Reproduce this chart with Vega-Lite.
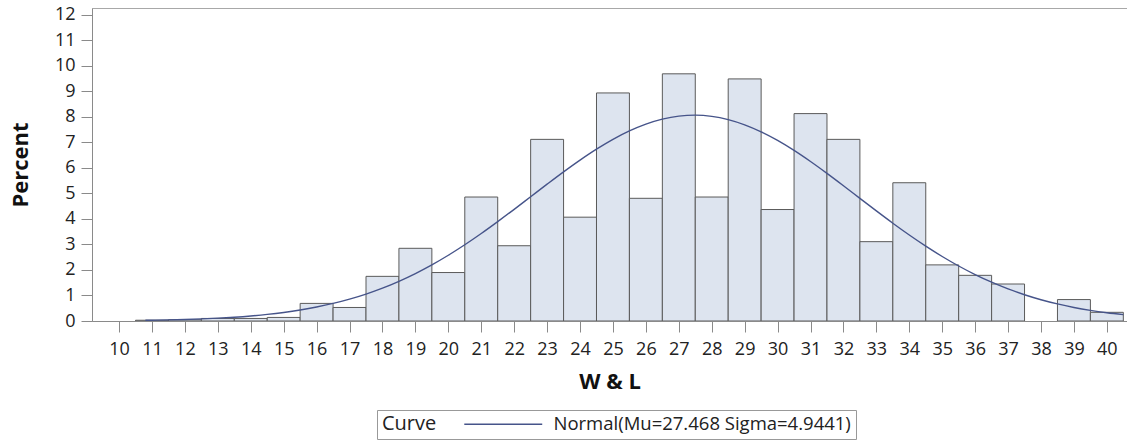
{
  "$schema": "https://vega.github.io/schema/vega-lite/v6.json",
  "width": 1035,
  "height": 313,
  "autosize": {"type": "none"},
  "padding": {"left": 92, "top": 8, "right": 0, "bottom": 122},
  "background": "white",
  "config": {
    "font": "Open Sans",
    "view": {"stroke": "#a8a8a8", "strokeWidth": 1},
    "axis": {"grid": false, "domainColor": "#8a8a8a", "tickColor": "#8a8a8a", "labelColor": "#222222", "titleColor": "#111111", "labelFont": "Open Sans", "titleFont": "Open Sans"}
  },
  "datasets": {
    "bars": [
      {"lo": 10.5, "hi": 11.5, "percent": 0.03},
      {"lo": 11.5, "hi": 12.5, "percent": 0.05},
      {"lo": 12.5, "hi": 13.5, "percent": 0.1},
      {"lo": 13.5, "hi": 14.5, "percent": 0.1},
      {"lo": 14.5, "hi": 15.5, "percent": 0.14},
      {"lo": 15.5, "hi": 16.5, "percent": 0.69},
      {"lo": 16.5, "hi": 17.5, "percent": 0.53},
      {"lo": 17.5, "hi": 18.5, "percent": 1.75},
      {"lo": 18.5, "hi": 19.5, "percent": 2.85},
      {"lo": 19.5, "hi": 20.5, "percent": 1.9},
      {"lo": 20.5, "hi": 21.5, "percent": 4.86},
      {"lo": 21.5, "hi": 22.5, "percent": 2.95},
      {"lo": 22.5, "hi": 23.5, "percent": 7.12},
      {"lo": 23.5, "hi": 24.5, "percent": 4.07},
      {"lo": 24.5, "hi": 25.5, "percent": 8.94},
      {"lo": 25.5, "hi": 26.5, "percent": 4.81},
      {"lo": 26.5, "hi": 27.5, "percent": 9.69},
      {"lo": 27.5, "hi": 28.5, "percent": 4.86},
      {"lo": 28.5, "hi": 29.5, "percent": 9.49},
      {"lo": 29.5, "hi": 30.5, "percent": 4.37},
      {"lo": 30.5, "hi": 31.5, "percent": 8.13},
      {"lo": 31.5, "hi": 32.5, "percent": 7.12},
      {"lo": 32.5, "hi": 33.5, "percent": 3.11},
      {"lo": 33.5, "hi": 34.5, "percent": 5.42},
      {"lo": 34.5, "hi": 35.5, "percent": 2.2},
      {"lo": 35.5, "hi": 36.5, "percent": 1.79},
      {"lo": 36.5, "hi": 37.5, "percent": 1.45},
      {"lo": 38.5, "hi": 39.5, "percent": 0.84},
      {"lo": 39.5, "hi": 40.5, "percent": 0.34}
    ],
    "curve": [
      {"lo": 10.8, "percent": 0.0275, "series": "Normal(Mu=27.468 Sigma=4.9441)"},
      {"lo": 11.0, "percent": 0.0315, "series": "Normal(Mu=27.468 Sigma=4.9441)"},
      {"lo": 11.5, "percent": 0.0438, "series": "Normal(Mu=27.468 Sigma=4.9441)"},
      {"lo": 12.0, "percent": 0.0604, "series": "Normal(Mu=27.468 Sigma=4.9441)"},
      {"lo": 12.5, "percent": 0.0825, "series": "Normal(Mu=27.468 Sigma=4.9441)"},
      {"lo": 13.0, "percent": 0.1115, "series": "Normal(Mu=27.468 Sigma=4.9441)"},
      {"lo": 13.5, "percent": 0.1491, "series": "Normal(Mu=27.468 Sigma=4.9441)"},
      {"lo": 14.0, "percent": 0.1975, "series": "Normal(Mu=27.468 Sigma=4.9441)"},
      {"lo": 14.5, "percent": 0.2588, "series": "Normal(Mu=27.468 Sigma=4.9441)"},
      {"lo": 15.0, "percent": 0.3356, "series": "Normal(Mu=27.468 Sigma=4.9441)"},
      {"lo": 15.5, "percent": 0.4309, "series": "Normal(Mu=27.468 Sigma=4.9441)"},
      {"lo": 16.0, "percent": 0.5477, "series": "Normal(Mu=27.468 Sigma=4.9441)"},
      {"lo": 16.5, "percent": 0.6889, "series": "Normal(Mu=27.468 Sigma=4.9441)"},
      {"lo": 17.0, "percent": 0.8579, "series": "Normal(Mu=27.468 Sigma=4.9441)"},
      {"lo": 17.5, "percent": 1.0569, "series": "Normal(Mu=27.468 Sigma=4.9441)"},
      {"lo": 18.0, "percent": 1.2893, "series": "Normal(Mu=27.468 Sigma=4.9441)"},
      {"lo": 18.5, "percent": 1.5574, "series": "Normal(Mu=27.468 Sigma=4.9441)"},
      {"lo": 19.0, "percent": 1.8613, "series": "Normal(Mu=27.468 Sigma=4.9441)"},
      {"lo": 19.5, "percent": 2.2019, "series": "Normal(Mu=27.468 Sigma=4.9441)"},
      {"lo": 20.0, "percent": 2.5785, "series": "Normal(Mu=27.468 Sigma=4.9441)"},
      {"lo": 20.5, "percent": 2.9886, "series": "Normal(Mu=27.468 Sigma=4.9441)"},
      {"lo": 21.0, "percent": 3.4292, "series": "Normal(Mu=27.468 Sigma=4.9441)"},
      {"lo": 21.5, "percent": 3.8944, "series": "Normal(Mu=27.468 Sigma=4.9441)"},
      {"lo": 22.0, "percent": 4.3773, "series": "Normal(Mu=27.468 Sigma=4.9441)"},
      {"lo": 22.5, "percent": 4.8706, "series": "Normal(Mu=27.468 Sigma=4.9441)"},
      {"lo": 23.0, "percent": 5.3639, "series": "Normal(Mu=27.468 Sigma=4.9441)"},
      {"lo": 23.5, "percent": 5.8475, "series": "Normal(Mu=27.468 Sigma=4.9441)"},
      {"lo": 24.0, "percent": 6.309, "series": "Normal(Mu=27.468 Sigma=4.9441)"},
      {"lo": 24.5, "percent": 6.7384, "series": "Normal(Mu=27.468 Sigma=4.9441)"},
      {"lo": 25.0, "percent": 7.1237, "series": "Normal(Mu=27.468 Sigma=4.9441)"},
      {"lo": 25.5, "percent": 7.4544, "series": "Normal(Mu=27.468 Sigma=4.9441)"},
      {"lo": 26.0, "percent": 7.7211, "series": "Normal(Mu=27.468 Sigma=4.9441)"},
      {"lo": 26.5, "percent": 7.9159, "series": "Normal(Mu=27.468 Sigma=4.9441)"},
      {"lo": 27.0, "percent": 8.0329, "series": "Normal(Mu=27.468 Sigma=4.9441)"},
      {"lo": 27.5, "percent": 8.069, "series": "Normal(Mu=27.468 Sigma=4.9441)"},
      {"lo": 28.0, "percent": 8.0224, "series": "Normal(Mu=27.468 Sigma=4.9441)"},
      {"lo": 28.5, "percent": 7.8951, "series": "Normal(Mu=27.468 Sigma=4.9441)"},
      {"lo": 29.0, "percent": 7.6908, "series": "Normal(Mu=27.468 Sigma=4.9441)"},
      {"lo": 29.5, "percent": 7.4155, "series": "Normal(Mu=27.468 Sigma=4.9441)"},
      {"lo": 30.0, "percent": 7.0774, "series": "Normal(Mu=27.468 Sigma=4.9441)"},
      {"lo": 30.5, "percent": 6.686, "series": "Normal(Mu=27.468 Sigma=4.9441)"},
      {"lo": 31.0, "percent": 6.2515, "series": "Normal(Mu=27.468 Sigma=4.9441)"},
      {"lo": 31.5, "percent": 5.7863, "series": "Normal(Mu=27.468 Sigma=4.9441)"},
      {"lo": 32.0, "percent": 5.3012, "series": "Normal(Mu=27.468 Sigma=4.9441)"},
      {"lo": 32.5, "percent": 4.8073, "series": "Normal(Mu=27.468 Sigma=4.9441)"},
      {"lo": 33.0, "percent": 4.315, "series": "Normal(Mu=27.468 Sigma=4.9441)"},
      {"lo": 33.5, "percent": 3.8333, "series": "Normal(Mu=27.468 Sigma=4.9441)"},
      {"lo": 34.0, "percent": 3.3711, "series": "Normal(Mu=27.468 Sigma=4.9441)"},
      {"lo": 34.5, "percent": 2.9343, "series": "Normal(Mu=27.468 Sigma=4.9441)"},
      {"lo": 35.0, "percent": 2.5285, "series": "Normal(Mu=27.468 Sigma=4.9441)"},
      {"lo": 35.5, "percent": 2.1561, "series": "Normal(Mu=27.468 Sigma=4.9441)"},
      {"lo": 36.0, "percent": 1.8203, "series": "Normal(Mu=27.468 Sigma=4.9441)"},
      {"lo": 36.5, "percent": 1.521, "series": "Normal(Mu=27.468 Sigma=4.9441)"},
      {"lo": 37.0, "percent": 1.2578, "series": "Normal(Mu=27.468 Sigma=4.9441)"},
      {"lo": 37.5, "percent": 1.0298, "series": "Normal(Mu=27.468 Sigma=4.9441)"},
      {"lo": 38.0, "percent": 0.8347, "series": "Normal(Mu=27.468 Sigma=4.9441)"},
      {"lo": 38.5, "percent": 0.6694, "series": "Normal(Mu=27.468 Sigma=4.9441)"},
      {"lo": 39.0, "percent": 0.5313, "series": "Normal(Mu=27.468 Sigma=4.9441)"},
      {"lo": 39.5, "percent": 0.4177, "series": "Normal(Mu=27.468 Sigma=4.9441)"},
      {"lo": 40.0, "percent": 0.3248, "series": "Normal(Mu=27.468 Sigma=4.9441)"},
      {"lo": 40.5, "percent": 0.2501, "series": "Normal(Mu=27.468 Sigma=4.9441)"}
    ]
  },
  "encoding": {
    "x": {
      "field": "lo", "type": "quantitative",
      "scale": {"domain": [9.33, 40.46], "nice": false, "zero": false},
      "axis": {
        "values": [10,11,12,13,14,15,16,17,18,19,20,21,22,23,24,25,26,27,28,29,30,31,32,33,34,35,36,37,38,39,40],
        "tickSize": 11, "labelFontSize": 18, "labelPadding": 8, "labelOverlap": false, "labelFlush": false,
        "title": "W & L", "titleFontSize": 22, "titleFontWeight": "bold", "titlePadding": 13
      }
    },
    "y": {
      "field": "percent", "type": "quantitative",
      "scale": {"domain": [0, 12.27], "nice": false, "zero": true},
      "axis": {
        "values": [0,1,2,3,4,5,6,7,8,9,10,11,12],
        "tickSize": 11, "labelFontSize": 18, "labelPadding": 6, "labelOverlap": false,
        "title": "Percent", "titleFontSize": 22, "titleFontWeight": "bold", "titlePadding": 22
      }
    }
  },
  "layer": [
    {
      "data": {"name": "bars"},
      "mark": {"type": "bar", "fill": "#dde4ef", "stroke": "#5a5a5a", "strokeWidth": 1, "clip": true, "orient": "vertical"},
      "encoding": {
        "x2": {"field": "hi"},
        "y2": {"datum": 0}
      }
    },
    {
      "data": {"name": "curve"},
      "mark": {"type": "line", "strokeWidth": 1.4, "interpolate": "monotone", "clip": true},
      "encoding": {
        "color": {
          "field": "series", "type": "nominal",
          "scale": {"range": ["#46548a"]},
          "legend": {
            "orient": "none", "legendX": 285, "legendY": 402, "direction": "horizontal",
            "title": "Curve", "titleOrient": "left", "titleFontWeight": "normal", "titleFontSize": 20, "titleColor": "#222222", "titlePadding": 57,
            "labelFontSize": 18.5, "labelColor": "#222222", "labelLimit": 500, "labelOffset": 41,
            "symbolType": "M-5,0H5", "symbolSize": 243, "symbolStrokeWidth": 1.4,
            "padding": 5, "strokeColor": "#999999", "fillColor": "white"
          }
        }
      }
    }
  ]
}
